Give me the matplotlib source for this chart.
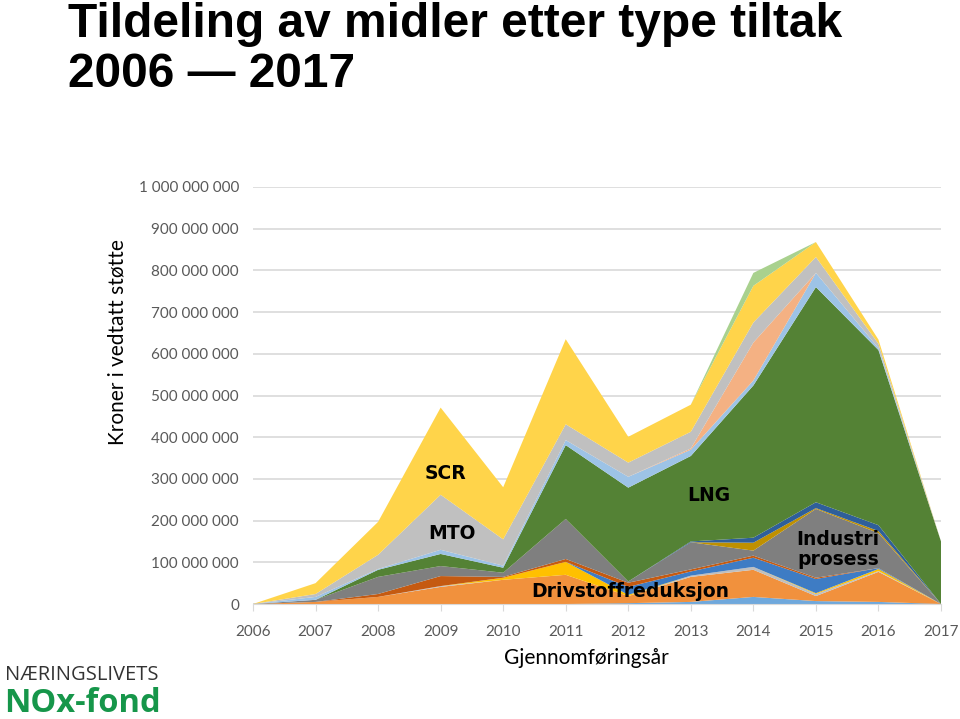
import matplotlib.pyplot as plt
from matplotlib.ticker import FuncFormatter

years = list(range(2006, 2018))

# layer values in million NOK, bottom to top
lyseblaa_bunn = [0, 0, 0, 0, 0, 0, 2, 5, 17, 7, 5, 0]
drivstoff = [0, 5, 17, 41, 58, 70, 17, 60, 65, 12, 72, 0]
lysgraa_tynn = [0, 0, 0, 2, 0, 0, 0, 3, 7, 5, 2, 0]
gull = [0, 0, 0, 0, 5, 31, 3, 0, 0, 2, 5, 0]
blaa = [0, 0, 0, 0, 0, 0, 19, 10, 22, 34, 2, 0]
brun = [0, 0, 7, 24, 2, 7, 10, 5, 5, 3, 0, 0]
industri = [0, 5, 41, 24, 10, 96, 3, 65, 12, 165, 84, 0]
morkgull = [0, 0, 0, 0, 0, 0, 0, 0, 19, 2, 5, 0]
morkblaa = [0, 0, 0, 0, 0, 0, 0, 2, 12, 14, 14, 0]
lng = [0, 0, 17, 29, 12, 177, 225, 205, 365, 516, 420, 150]
lyseblaa = [0, 7, 2, 10, 5, 12, 26, 15, 12, 34, 5, 0]
lyseoransje = [0, 0, 0, 0, 0, 0, 0, 3, 91, 0, 0, 0]
mto = [0, 7, 34, 132, 63, 38, 34, 40, 48, 38, 10, 0]
scr = [0, 26, 79, 209, 125, 204, 62, 65, 88, 36, 10, 0]
lysgronn = [0, 0, 0, 0, 0, 0, 0, 0, 31, 0, 0, 0]

layers = [lyseblaa_bunn, drivstoff, lysgraa_tynn, gull, blaa, brun, industri,
          morkgull, morkblaa, lng, lyseblaa, lyseoransje, mto, scr, lysgronn]
colors = ['#6FA8DC', '#F1913D', '#BFBFBF', '#FFC000', '#3E7CC4', '#C55A11',
          '#7F7F7F', '#BF9000', '#2F5F9A', '#548235', '#9DC3E6', '#F4B183',
          '#C0C0C0', '#FFD44A', '#A9D18E']

ytick_vals = [i * 100_000_000 for i in range(11)]

fig = plt.figure(figsize=(9.6, 7.19), dpi=100)
ax = fig.add_axes([253 / 960, 1 - 604 / 719, 688 / 960, 417 / 719])

ax.stackplot(years, *[[v * 1e6 for v in s] for s in layers], colors=colors, linewidth=0)

ax.set_xlim(2006, 2017)
ax.set_ylim(0, 1e9)
ax.set_yticks(ytick_vals)
ax.yaxis.set_major_formatter(FuncFormatter(lambda v, p: f"{int(v):,}".replace(",", " ")))
ax.set_xticks(years)
ax.grid(axis='y', color='#D9D9D9', linewidth=1.2)
ax.set_axisbelow(True)
for s in ['top', 'right', 'left']:
    ax.spines[s].set_visible(False)
ax.spines['bottom'].set_color('#D9D9D9')
ax.tick_params(axis='y', length=0, pad=10, labelsize=11, labelcolor='#595959')
ax.tick_params(axis='x', length=5, color='#D9D9D9', pad=10, labelsize=11, labelcolor='#595959')
for lab in ax.get_xticklabels() + ax.get_yticklabels():
    lab.set_family('Lato')

# labels in the areas
lab_kw = dict(fontsize=13.5, fontweight='bold', family='DejaVu Sans', ha='center', va='center')
ax.text(2009.07, 314e6, 'SCR', **lab_kw)
ax.text(2009.18, 170e6, 'MTO', **lab_kw)
ax.text(2013.29, 259e6, 'LNG', **lab_kw)
ax.text(2012.03, 29e6, 'Drivstoffreduksjon', **lab_kw)
ax.text(2015.35, 130e6, 'Industri\nprosess', linespacing=1.05, **lab_kw)

fig.text(118 / 960, 1 - 342 / 719, 'Kroner i vedtatt støtte', rotation=90, ha='center', va='center',
         fontsize=15, family='Lato')
fig.text(586 / 960, 1 - 658 / 719, 'Gjennomføringsår', ha='center', va='center', fontsize=15, family='Lato')

fig.text(68 / 960, 1 - 37 / 719, 'Tildeling av midler etter type tiltak', fontsize=34.5, fontweight='bold',
         family='Liberation Sans', va='baseline')
fig.text(68 / 960, 1 - 87 / 719, '2006 — 2017', fontsize=34.5, fontweight='bold',
         family='Liberation Sans', va='baseline')

# logo
fig.text(5 / 960, 1 - 675 / 719, 'NÆRINGSLIVETS', fontsize=14.5, color='#333333', family='Open Sans',
         va='center')
fig.text(4 / 960, 1 - 704 / 719, 'NOx-fond', fontsize=23.5, fontweight='bold', color='#16964A',
         family='Open Sans', va='center')

fig.savefig('out.png', dpi=100)
